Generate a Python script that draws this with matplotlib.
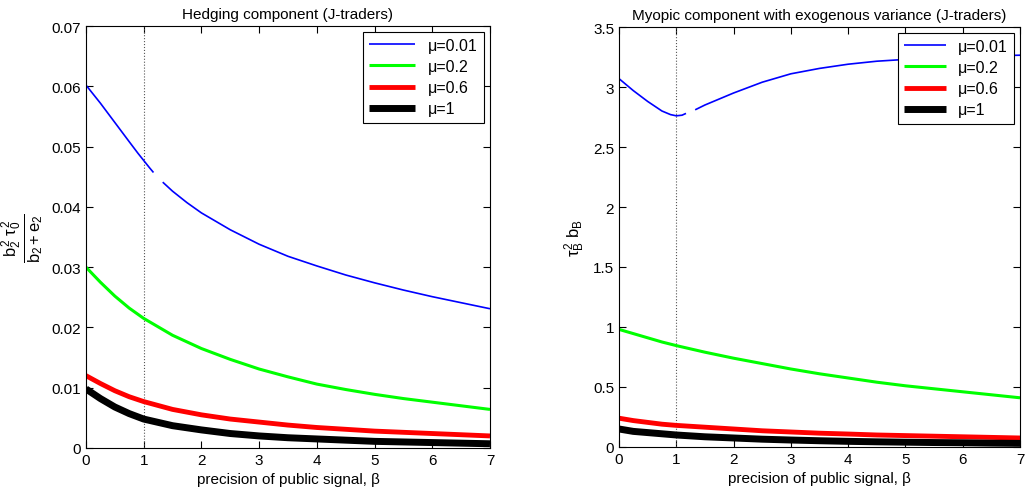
import numpy as np
import matplotlib
matplotlib.use("Agg")
import matplotlib.pyplot as plt

plt.rcParams['font.family'] = ['Liberation Sans', 'DejaVu Sans']
plt.rcParams['mathtext.fontset'] = 'custom'
plt.rcParams['mathtext.rm'] = 'Liberation Sans'
plt.rcParams['mathtext.it'] = 'Liberation Sans'

# precision grid (beta)
beta = [0, 0.25, 0.5, 0.75, 1, 1.5, 2, 2.5, 3, 3.5, 4, 4.5, 5, 5.5, 6, 6.5, 7]
# blue curve has a gap around beta ~ 1.2
beta_blue = [0, 0.25, 0.5, 0.75, 0.9, 1, 1.1, 1.17, np.nan,
             1.33, 1.5, 1.75, 2, 2.5, 3, 3.5, 4, 4.5, 5, 5.5, 6, 6.5, 7]

# Hedging component (left)
hedge_001 = [0.0602, 0.0572, 0.0540, 0.0508, 0.0489, 0.0477, 0.0465, 0.0457, np.nan,
             0.0441, 0.0426, 0.0407, 0.0390, 0.0362, 0.0338, 0.0318, 0.0302, 0.0287,
             0.0274, 0.0262, 0.0251, 0.0241, 0.0231]
hedge_02 = [0.0300, 0.0275, 0.0252, 0.0232, 0.0215, 0.0187, 0.0165, 0.0147, 0.0131,
            0.0118, 0.0106, 0.0097, 0.0089, 0.0082, 0.0076, 0.0070, 0.0064]
hedge_06 = [0.0120, 0.0107, 0.0095, 0.0085, 0.0077, 0.0064, 0.0055, 0.0048, 0.0043,
            0.0038, 0.0034, 0.0031, 0.0028, 0.0026, 0.0024, 0.0022, 0.0020]
hedge_1 = [0.0098, 0.0082, 0.0068, 0.0057, 0.0048, 0.0037, 0.0030, 0.0024, 0.0020,
           0.0017, 0.0015, 0.0013, 0.0011, 0.0010, 0.0009, 0.0008, 0.0007]

# Myopic component (right)
myop_001 = [3.07, 2.97, 2.88, 2.80, 2.77, 2.76, 2.765, 2.78, np.nan,
            2.81, 2.85, 2.90, 2.95, 3.04, 3.11, 3.155, 3.19, 3.215, 3.23, 3.245,
            3.255, 3.26, 3.265]
myop_02 = [0.98, 0.945, 0.91, 0.875, 0.845, 0.79, 0.74, 0.695, 0.65, 0.61, 0.575,
           0.54, 0.51, 0.485, 0.46, 0.435, 0.41]
myop_06 = [0.24, 0.22, 0.205, 0.19, 0.18, 0.165, 0.15, 0.135, 0.125, 0.115, 0.108,
           0.100, 0.095, 0.090, 0.085, 0.080, 0.075]
myop_1 = [0.15, 0.13, 0.12, 0.11, 0.10, 0.085, 0.075, 0.065, 0.058, 0.052, 0.047,
          0.043, 0.040, 0.037, 0.035, 0.032, 0.030]

labels = ['μ=0.01', 'μ=0.2', 'μ=0.6', 'μ=1']
colors = ['#0000ff', '#00ff00', '#ff0000', '#000000']
widths = [1.2, 2.2, 3.5, 5.0]

fig = plt.figure(figsize=(10.27, 5.02), dpi=100)
ax1 = fig.add_axes([0.0837, 0.1056, 0.3934, 0.8406])
ax2 = fig.add_axes([0.6027, 0.1076, 0.3905, 0.8366])


def draw(ax, series, ymax, yticks, title, ylabel, ylsize, hl):
    ax.axvline(1, color='#555555', linestyle=':', linewidth=0.8)
    for i, s in enumerate(series):
        x = beta_blue if i == 0 else beta
        ax.plot(x, s, color=colors[i], linewidth=widths[i], label=labels[i],
                solid_capstyle='butt')
    ax.set_xlim(0, 7)
    ax.set_ylim(0, ymax)
    ax.set_yticks(yticks)
    ax.set_xticks(range(8))
    ax.tick_params(direction='in', top=True, right=True, labelsize=11, length=5)
    ax.set_title(title, fontsize=11, pad=6)
    ax.set_xlabel('precision of public signal, β', fontsize=11)
    ax.set_ylabel(ylabel, fontsize=ylsize)
    leg = ax.legend(loc='upper right', fontsize=11.5, fancybox=False, framealpha=1,
                    edgecolor='black', handlelength=hl, borderaxespad=0.35,
                    labelspacing=0.38)
    leg.get_frame().set_linewidth(0.8)


draw(ax1, [hedge_001, hedge_02, hedge_06, hedge_1], 0.07,
     [0, 0.01, 0.02, 0.03, 0.04, 0.05, 0.06, 0.07],
     'Hedging component (J-traders)',
     r'$\frac{b_2^2\ \tau_0^2}{b_2+e_2}$', 17, 2.9)
ax1.set_yticklabels(['0', '0.01', '0.02', '0.03', '0.04', '0.05', '0.06', '0.07'])

draw(ax2, [myop_001, myop_02, myop_06, myop_1], 3.5,
     [0, 0.5, 1, 1.5, 2, 2.5, 3, 3.5],
     'Myopic component with exogenous variance (J-traders)',
     r'$\tau_B^2\ b_B$', 12, 2.6)
ax2.set_yticklabels(['0', '0.5', '1', '1.5', '2', '2.5', '3', '3.5'])

fig.savefig('out.png', dpi=100)
